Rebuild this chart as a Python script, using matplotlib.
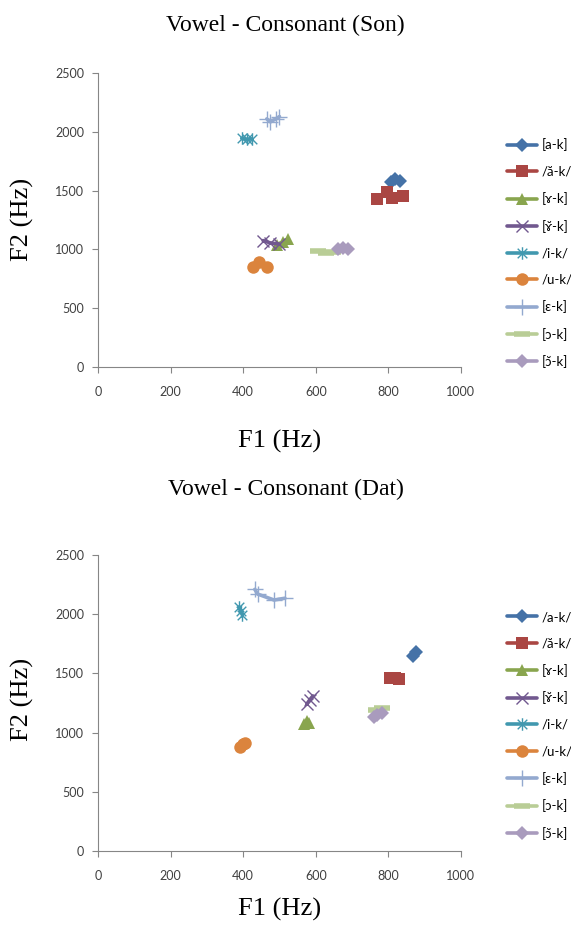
import matplotlib
matplotlib.use("Agg")
import matplotlib.pyplot as plt
from matplotlib.path import Path

# ---------------------------------------------------------------------------
# Data (F1, F2 in Hz)
# ---------------------------------------------------------------------------
son_labels = ["[a-k]", "/ă-k/", "[ɤ-k]", "[ɤ̆-k]", "/i-k/", "/u-k/",
              "[ɛ-k]", "[ɔ-k]", "[ɔ̆-k]"]
dat_labels = ["/a-k/", "/ă-k/", "[ɤ-k]", "[ɤ̆-k]", "/i-k/", "/u-k/",
              "[ɛ-k]", "[ɔ-k]", "[ɔ̆-k]"]

son_f1 = [[806, 818, 832],
          [770, 795, 810, 839],
          [492, 510, 524],
          [455, 475, 500],
          [396, 410, 423],
          [428, 443, 465],
          [465, 475, 490, 500],
          [605, 628, 648],
          [662, 676, 690]]
son_f2 = [[1570, 1595, 1585],
          [1430, 1490, 1435, 1455],
          [1040, 1065, 1090],
          [1075, 1055, 1045],
          [1945, 1935, 1940],
          [850, 890, 850],
          [2110, 2085, 2110, 2130],
          [985, 970, 975],
          [1005, 1012, 1005]]

dat_f1 = [[868, 876],
          [805, 818, 830],
          [568, 575, 580],
          [575, 583, 592],
          [388, 393, 398],
          [392, 400, 405],
          [432, 440, 485, 515],
          [765, 782],
          [760, 770, 782]]
dat_f2 = [[1650, 1685],
          [1465, 1460, 1455],
          [1075, 1100, 1080],
          [1240, 1275, 1310],
          [2060, 2030, 1995],
          [880, 900, 915],
          [2210, 2170, 2120, 2135],
          [1190, 1205],
          [1130, 1145, 1165]]

# ---------------------------------------------------------------------------
# Styles
# ---------------------------------------------------------------------------
colors = ["#4572A7", "#AA4643", "#89A54E", "#71588F", "#4198AF",
          "#DB843D", "#93A9CF", "#B9CD96", "#A99BBD"]

star = Path([(-1, -1), (1, 1), (-1, 1), (1, -1), (0, -1.3), (0, 1.3)],
            [Path.MOVETO, Path.LINETO, Path.MOVETO, Path.LINETO,
             Path.MOVETO, Path.LINETO])

markers = ["D", "s", "^", "x", star, "o", "+", "_", "D"]
msizes = [7, 8, 8, 9, 9, 9, 11, 11, 7]
mews = [0, 0, 0, 1.0, 1.0, 0, 1.0, 4, 0]

serif = ["Liberation Serif", "DejaVu Serif"]
sans = ["Lato", "DejaVu Sans"]
grey = "#868686"


def panel(fig, rect, title, f1, f2, labels, title_y, xlab_y, ylab_y, leg_top):
    ax = fig.add_axes(rect)
    for i in range(len(labels)):
        ax.plot(f1[i], f2[i], color=colors[i], lw=2.6, marker=markers[i],
                ms=msizes[i], mew=mews[i], mec=colors[i], mfc=colors[i],
                label=labels[i], solid_capstyle="round")
    ax.set_xlim(0, 1000)
    ax.set_ylim(0, 2500)
    ax.set_xticks(range(0, 1001, 200))
    ax.set_yticks(range(0, 2501, 500))
    for s in ["top", "right"]:
        ax.spines[s].set_visible(False)
    for s in ["left", "bottom"]:
        ax.spines[s].set_color(grey)
        ax.spines[s].set_linewidth(0.8)
    ax.tick_params(direction="out", length=4, width=0.8, color=grey,
                   labelsize=9, labelcolor="#404040", pad=6)
    for t in ax.get_xticklabels() + ax.get_yticklabels():
        t.set_family(sans)
    ax.xaxis.set_tick_params(pad=10)

    fig.text(0.5, title_y, title, ha="center", va="center",
             fontsize=17, family=serif)
    fig.text(0.49, xlab_y, "F1 (Hz)", ha="center", va="center",
             fontsize=19, family=serif)
    fig.text(0.04, ylab_y, "F2 (Hz)", ha="center", va="center",
             fontsize=19, family=serif, rotation=90)

    ax.legend(loc="upper left", bbox_to_anchor=(0.888, leg_top),
              bbox_transform=fig.transFigure, frameon=False,
              prop={"family": sans, "size": 9.5}, handlelength=2.3,
              handletextpad=0.3, labelspacing=1.1, borderaxespad=0,
              borderpad=0)
    return ax


fig = plt.figure(figsize=(5.71, 9.35), dpi=100)

panel(fig, [0.1716, 0.6075, 0.6357, 0.3144], "Vowel - Consonant (Son)",
      son_f1, son_f2, son_labels, 0.973, 0.528, 0.765, 0.852)
panel(fig, [0.1716, 0.0898, 0.6357, 0.3166], "Vowel - Consonant (Dat)",
      dat_f1, dat_f2, dat_labels, 0.476, 0.027, 0.252, 0.3465)

fig.savefig("out.png", dpi=100)
